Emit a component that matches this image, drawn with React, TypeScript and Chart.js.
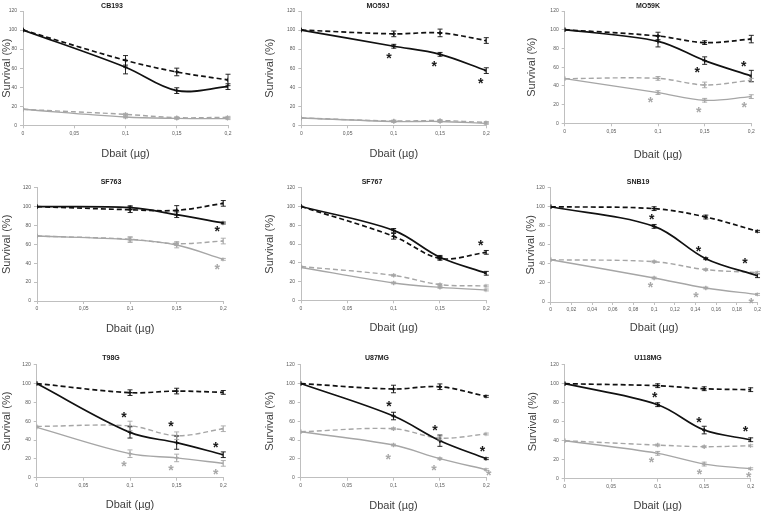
import React, { useEffect, useRef } from "react";
import { Chart, registerables } from "chart.js";
Chart.register(...registerables);

// ---------- DATA ----------
const doses = [0, 0.1, 0.15, 0.2];
const panelNames = ["CB193", "MO59J", "MO59K", "SF763", "SF767", "SNB19", "T98G", "U87MG", "U118MG"];
const xStepSizes = [0.05, 0.05, 0.05, 0.05, 0.05, 0.02, 0.05, 0.05, 0.05];
const yTickMax = 120;
const yTickStep = 20;

const blackSolid = [
  [100, 61, 36.4, 40.6],
  [100, 83, 74.5, 57.4],
  [100, 87.6, 67, 50.6],
  [100, 98.8, 91.4, 82.6],
  [100, 74.5, 45.8, 28.8],
  [100, 79.4, 45.5, 27.6],
  [100, 48.1, 37.2, 24.4],
  [100, 65.5, 39.3, 20.2],
  [100, 77.9, 51.2, 41],
];
const blackSolidErr = [
  [0, 7, 3, 3],
  [0, 2, 2, 3],
  [0, 6, 4, 6],
  [0, 2, 3, 1],
  [0, 2, 2, 2],
  [0, 2, 1, 2],
  [0, 6, 7, 3],
  [0, 4, 6, 1],
  [0, 2, 4, 2],
];
const blackDashed = [
  [100, 68.2, 56, 47.6],
  [100, 96, 97, 89],
  [100, 93.3, 86.2, 90],
  [100, 96.7, 96, 103.4],
  [100, 68.2, 44.7, 51.1],
  [100, 98, 89.2, 74.2],
  [100, 90.3, 92, 90.6],
  [100, 94.2, 96.6, 86.4],
  [100, 97.9, 94.7, 93.7],
];
const blackDashedErr = [
  [0, 5, 4, 6],
  [0, 3, 4, 3],
  [0, 4, 2, 4],
  [0, 3, 5, 3],
  [0, 3, 2, 2],
  [0, 2, 2, 1],
  [0, 3, 3, 2],
  [0, 4, 3, 1],
  [0, 2, 2, 2],
];
const greySolid = [
  [16.8, 8.7, 7.3, 7],
  [7.7, 4, 4, 2],
  [47.7, 32.8, 24.6, 28.5],
  [68.8, 65, 59.3, 44.1],
  [35, 18.5, 13.8, 11],
  [44.4, 25.2, 14.7, 8],
  [53.5, 25.5, 21, 15.2],
  [48.8, 34.7, 20.2, 8.5],
  [40, 26.7, 15.4, 10.5],
];
const greySolidErr = [
  [1, 1, 1, 1],
  [1, 1, 1, 1],
  [2, 2, 2, 2],
  [1, 3, 3, 1],
  [1, 1, 1, 1],
  [1, 1, 1, 1],
  [2, 4, 4, 3],
  [1, 1, 1, 1],
  [1, 2, 2, 1],
];
const greyDashed = [
  [16.8, 11.5, 8, 8.4],
  [7.7, 4.5, 5, 3],
  [47.7, 48, 41, 46],
  [68.8, 65.5, 60.7, 63.5],
  [36, 26.6, 16.7, 15.3],
  [44.4, 42.3, 34, 30.8],
  [54.5, 55, 44.6, 52],
  [48.8, 52, 42.1, 46.4],
  [40, 35.4, 33.7, 34.7],
];
const greyDashedErr = [
  [1, 1, 1, 1],
  [1, 1, 1, 1],
  [2, 2, 3, 2],
  [1, 2, 2, 3],
  [1, 1, 1, 1],
  [1, 1, 1, 1],
  [2, 5, 4, 3],
  [2, 1, 2, 1],
  [1, 1, 1, 1],
];
// significance asterisks [dose, survival]
const blackStars = [
  [],
  [[0.0948, 73.8], [0.1438, 65.8], [0.194, 47.6]],
  [[0.142, 58], [0.192, 64.8]],
  [[0.1936, 77]],
  [[0.194, 62]],
  [[0.0977, 90], [0.143, 56.3], [0.1878, 43.7]],
  [[0.0936, 68], [0.144, 58], [0.192, 36]],
  [[0.095, 79.3], [0.1447, 53.8], [0.196, 31.9]],
  [[0.0968, 89.5], [0.1444, 63.2], [0.1943, 54]],
];
const greyStars = [
  [],
  [],
  [[0.092, 25.6], [0.1436, 15], [0.1925, 21]],
  [[0.1936, 37]],
  [],
  [[0.0965, 18.9], [0.1405, 8.4], [0.194, 2.4]],
  [[0.0936, 16], [0.144, 11.3], [0.192, 7]],
  [[0.0944, 22.7], [0.1436, 11.7], [0.2025, 6]],
  [[0.0932, 20.4], [0.1448, 8.4], [0.198, 5.3]],
];

// ---------- LAYOUT (positions / sizes, in px) ----------
const layouts = [
  { x: 0, y: 0, w: 254, h: 171, L: 23, R: 228, T: 11, B: 125.3, survX: 7, dbY: 154, tX: 112, tY: 6 },
  { x: 254, y: 0, w: 254, h: 171, L: 47.3, R: 232.3, T: 11, B: 125.3, survX: 16, dbY: 154, tX: 124, tY: 6 },
  { x: 508, y: 0, w: 255, h: 171, L: 56.7, R: 243.3, T: 11, B: 123.3, survX: 24, dbY: 155, tX: 140, tY: 6 },
  { x: 0, y: 171, w: 254, h: 171, L: 37, R: 223.3, T: 16.7, B: 130, survX: 7, dbY: 158, tX: 111, tY: 11 },
  { x: 254, y: 171, w: 254, h: 171, L: 47, R: 232.3, T: 16.7, B: 129.3, survX: 16, dbY: 157, tX: 118, tY: 11 },
  { x: 508, y: 171, w: 255, h: 171, L: 42.7, R: 250, T: 16.7, B: 131, survX: 23, dbY: 157, tX: 130, tY: 11 },
  { x: 0, y: 342, w: 254, h: 171, L: 36.7, R: 223.3, T: 22.7, B: 135.7, survX: 7, dbY: 163, tX: 111, tY: 16 },
  { x: 254, y: 342, w: 254, h: 171, L: 46.7, R: 232.3, T: 22.7, B: 135.7, survX: 16, dbY: 164, tX: 123, tY: 16 },
  { x: 508, y: 342, w: 255, h: 171, L: 56.7, R: 242.7, T: 22.7, B: 136.7, survX: 25, dbY: 164, tX: 140, tY: 16 },
];

const FONT = '"Liberation Sans", Arial, sans-serif';
const BLACK = "#111111";
const GREY = "#a6a6a6";
const AXIS = "#bfbfbf";
const TICKTXT = "#595959";
const LABEL = "#404040";
const TITLE_SIZE = 11;

function fmt(v: number) {
  return String(Number(Number(v).toFixed(2))).replace(".", ",");
}

function Panel({ idx }: { idx: number }) {
  const ref = useRef<HTMLCanvasElement | null>(null);
  const g = layouts[idx];

  useEffect(() => {
    const canvas = ref.current;
    if (!canvas) return;
    const half = (TITLE_SIZE * 1.2) / 2;
    const padLeft = Math.max(0, g.survX - half);
    const titleBottom = g.dbY + half;
    const pad = { left: padLeft, top: g.T, right: g.w - g.R, bottom: g.h - titleBottom };
    const yW = g.L - padLeft;
    const xH = titleBottom - g.B;

    const mk = (vals: number[]) => doses.map((d, i) => ({ x: d, y: vals[i] }));

    const datasets: any[] = [
      { data: mk(blackSolid[idx]), errs: blackSolidErr[idx], borderColor: BLACK, backgroundColor: BLACK, borderWidth: 1.7, borderDash: [] },
      { data: mk(blackDashed[idx]), errs: blackDashedErr[idx], borderColor: BLACK, backgroundColor: BLACK, borderWidth: 1.7, borderDash: [5, 3] },
      { data: mk(greySolid[idx]), errs: greySolidErr[idx], borderColor: GREY, backgroundColor: GREY, borderWidth: 1.4, borderDash: [] },
      { data: mk(greyDashed[idx]), errs: greyDashedErr[idx], borderColor: GREY, backgroundColor: GREY, borderWidth: 1.4, borderDash: [5, 3] },
    ].map((d) => ({
      ...d,
      tension: 0.35,
      pointStyle: "cross",
      pointRadius: 2.2,
      pointHoverRadius: 2.2,
      pointBorderWidth: 1.3,
      pointBorderColor: d.borderColor,
      fill: false,
    }));

    const errPlugin = {
      id: "errbars" + idx,
      afterDatasetsDraw(chart: any) {
        const { ctx } = chart;
        const xs = chart.scales.x;
        const ys = chart.scales.y;
        chart.data.datasets.forEach((ds: any) => {
          const errs = ds.errs as number[];
          ctx.save();
          ctx.strokeStyle = ds.borderColor;
          ctx.lineWidth = 0.9;
          ctx.setLineDash([]);
          ds.data.forEach((p: any, i: number) => {
            const e = errs[i];
            if (!e || p.x === 0) return;
            const px = xs.getPixelForValue(p.x);
            const y1 = ys.getPixelForValue(p.y + e);
            const y2 = ys.getPixelForValue(p.y - e);
            ctx.beginPath();
            ctx.moveTo(px, y1);
            ctx.lineTo(px, y2);
            ctx.moveTo(px - 2.5, y1);
            ctx.lineTo(px + 2.5, y1);
            ctx.moveTo(px - 2.5, y2);
            ctx.lineTo(px + 2.5, y2);
            ctx.stroke();
          });
          ctx.restore();
        });
      },
    };

    const annPlugin = {
      id: "ann" + idx,
      afterDraw(chart: any) {
        const { ctx } = chart;
        const xs = chart.scales.x;
        const ys = chart.scales.y;
        ctx.save();
        // panel title
        ctx.font = `bold 7px ${FONT}`;
        ctx.fillStyle = "#222222";
        ctx.textAlign = "center";
        ctx.textBaseline = "middle";
        ctx.fillText(panelNames[idx], g.tX, g.tY);
        // asterisks
        const size = 14;
        ctx.font = `bold ${size}px ${FONT}`;
        ctx.textBaseline = "alphabetic";
        const draw = (list: number[][], color: string) => {
          ctx.fillStyle = color;
          list.forEach(([sx, sy]) => {
            const px = xs.getPixelForValue(sx);
            const py = ys.getPixelForValue(sy);
            ctx.fillText("*", px, py + size * 0.58);
          });
        };
        draw(blackStars[idx], "#1a1a1a");
        draw(greyStars[idx], "#a8a8a8");
        ctx.restore();
      },
    };

    const chart = new Chart(canvas, {
      type: "line",
      data: { datasets },
      plugins: [errPlugin, annPlugin],
      options: {
        responsive: false,
        animation: false,
        devicePixelRatio: 1,
        layout: { padding: pad },
        plugins: { legend: { display: false }, tooltip: { enabled: false }, title: { display: false } },
        scales: {
          x: {
            type: "linear",
            min: 0,
            max: 0.2,
            ticks: {
              stepSize: xStepSizes[idx],
              autoSkip: false,
              maxRotation: 0,
              padding: 2,
              color: TICKTXT,
              font: { size: 5, family: FONT },
              callback: (v: any) => fmt(v),
            },
            grid: { display: true, drawOnChartArea: false, drawTicks: true, tickLength: 3, color: AXIS },
            border: { display: true, color: AXIS, width: 1 },
            title: { display: true, text: "Dbait (µg)", color: LABEL, font: { size: TITLE_SIZE, family: FONT }, padding: 0 },
            afterFit: (s: any) => {
              s.height = xH;
            },
          },
          y: {
            type: "linear",
            min: 0,
            max: yTickMax,
            ticks: {
              stepSize: yTickStep,
              padding: 3,
              color: TICKTXT,
              font: { size: 5, family: FONT },
            },
            grid: { display: true, drawOnChartArea: false, drawTicks: true, tickLength: 3, color: AXIS },
            border: { display: true, color: AXIS, width: 1 },
            title: { display: true, text: "Survival (%)", color: LABEL, font: { size: TITLE_SIZE, family: FONT }, padding: 0 },
            afterFit: (s: any) => {
              s.width = yW;
            },
          },
        },
      } as any,
    });
    return () => chart.destroy();
  }, [idx]);

  return (
    <canvas
      ref={ref}
      width={g.w}
      height={g.h}
      style={{ position: "absolute", left: g.x, top: g.y, width: g.w, height: g.h }}
    />
  );
}

export default function App() {
  return (
    <div style={{ position: "absolute", left: 0, top: 0, width: 763, height: 513, background: "#ffffff", overflow: "hidden" }}>
      {panelNames.map((_, i) => (
        <Panel key={i} idx={i} />
      ))}
    </div>
  );
}
